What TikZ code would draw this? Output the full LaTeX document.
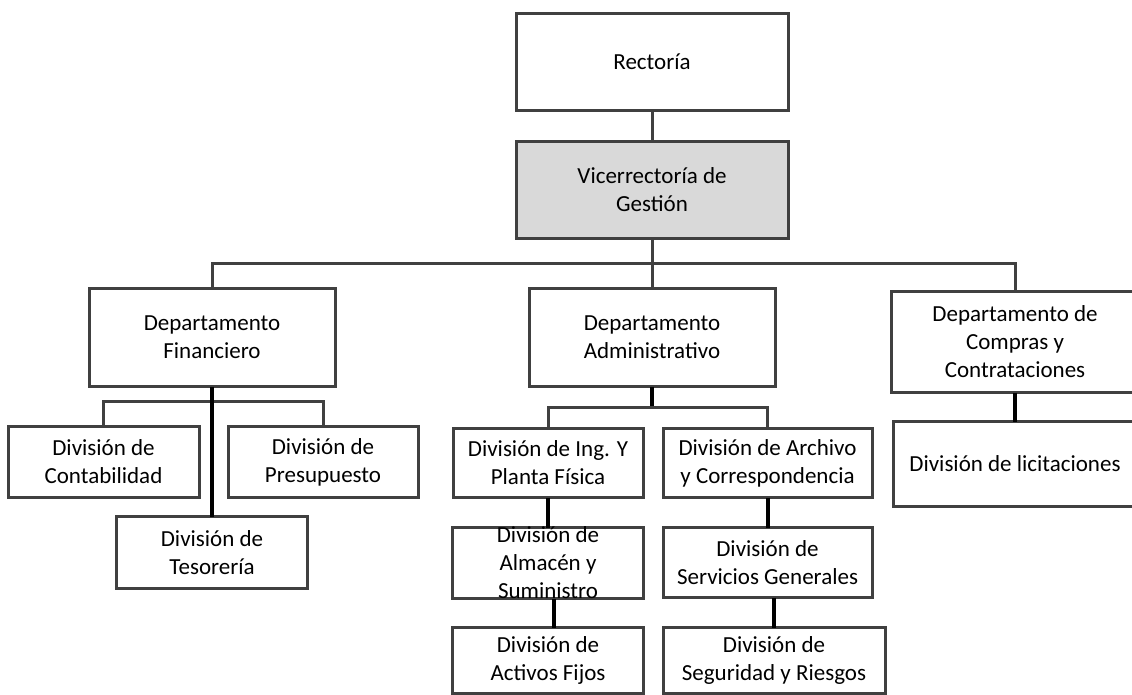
\documentclass[tikz,border=0pt]{standalone}
\usepackage{fontspec}
\setmainfont{Carlito}
\usetikzlibrary{positioning}

\begin{document}
\begin{tikzpicture}[x=1pt, y=1pt, node distance=30pt]
	\tikzstyle{format} = [draw=black!75, line width=3pt, rectangle, align=center,
	inner sep=4pt, outer sep=0pt, text=black, font=\fontsize{23}{28}\selectfont]
	\tikzstyle{link} = [draw=black!75, line width=3pt]
	\tikzstyle{heavy} = [draw=black, line width=4pt]

	\useasboundingbox (0,0) rectangle (1132,-694);

	\begin{scope}
		\path
			node[format, minimum width=272pt, minimum height=97pt] (rect) at (652,-61.5) {Rectoría}
			node[format, fill=black!15, minimum width=272pt, minimum height=97pt, below=31pt of rect] (vice) {Vicerrectoría de\\Gestión}

			node[format, minimum width=246pt, minimum height=98pt, below=50.5pt of vice] (adm) {Departamento\\Administrativo}
			node[format, minimum width=246pt, minimum height=98pt, left=194pt of adm] (fin) {Departamento\\Financiero}
			node[format, minimum width=248pt, minimum height=101pt, right=116pt of adm, yshift=-4.5pt] (com) {Departamento de\\Compras y\\Contrataciones}

			node[format, minimum width=191pt, minimum height=71pt, below=40pt of fin, xshift=-108.5pt] (cont) {División de\\Contabilidad}
			node[format, minimum width=190pt, minimum height=71pt, right=29pt of cont] (pres) {División de\\Presupuesto}
			node[format, minimum width=191pt, minimum height=72pt, below=130pt of fin] (teso) {División de\\Tesorería}

			node[format, minimum width=190pt, minimum height=69pt, below=42pt of adm, xshift=-104pt] (ing) {División de Ing. Y\\Planta Física}
			node[format, minimum width=209pt, minimum height=69pt, right=20pt of ing] (arch) {División de Archivo\\y Correspondencia}
			node[format, minimum width=191pt, minimum height=71pt, inner ysep=-4pt, below=30pt of ing] (alm) {División de\\Almacén y\\Suministro}
			node[format, minimum width=209pt, minimum height=70pt, below=30pt of arch] (serv) {División de\\Servicios Generales}
			node[format, minimum width=191pt, minimum height=66pt, below=29pt of alm] (act) {División de\\Activos Fijos}
			node[format, minimum width=222pt, minimum height=66pt, below=30pt of serv, xshift=6.5pt] (seg) {División de\\Seguridad y Riesgos}

			node[format, minimum width=244pt, minimum height=85pt, below=29pt of com] (lic) {División de licitaciones}

			(rect) edge[link] (vice)
		;

		% lineas de mando
		\draw[link] (vice.south) -- ++(0,-25) coordinate (bus);
		\draw[link] (fin.north) |- (bus) -| (com.north);
		\draw[link] (bus) -- (adm.north);

		\draw[link] (cont.north) |- ([yshift=-15pt]fin.south) -| (pres.north);
		\draw[heavy] (fin.south) -- (teso.north);

		\draw[heavy] (adm.south) -- ++(0,-21) coordinate (admbus);
		\draw[link] (ing.north) |- (admbus) -| (arch.north);
		\draw[heavy] (ing.south) -- (alm.north);
		\draw[heavy] ([xshift=6pt]alm.south) -- ([xshift=6pt]act.north);
		\draw[heavy] (arch.south) -- (serv.north);
		\draw[heavy] (seg.north |- serv.south) -- (seg.north);

		\draw[heavy] (com.south) -- (lic.north);
	\end{scope}
\end{tikzpicture}
\end{document}
